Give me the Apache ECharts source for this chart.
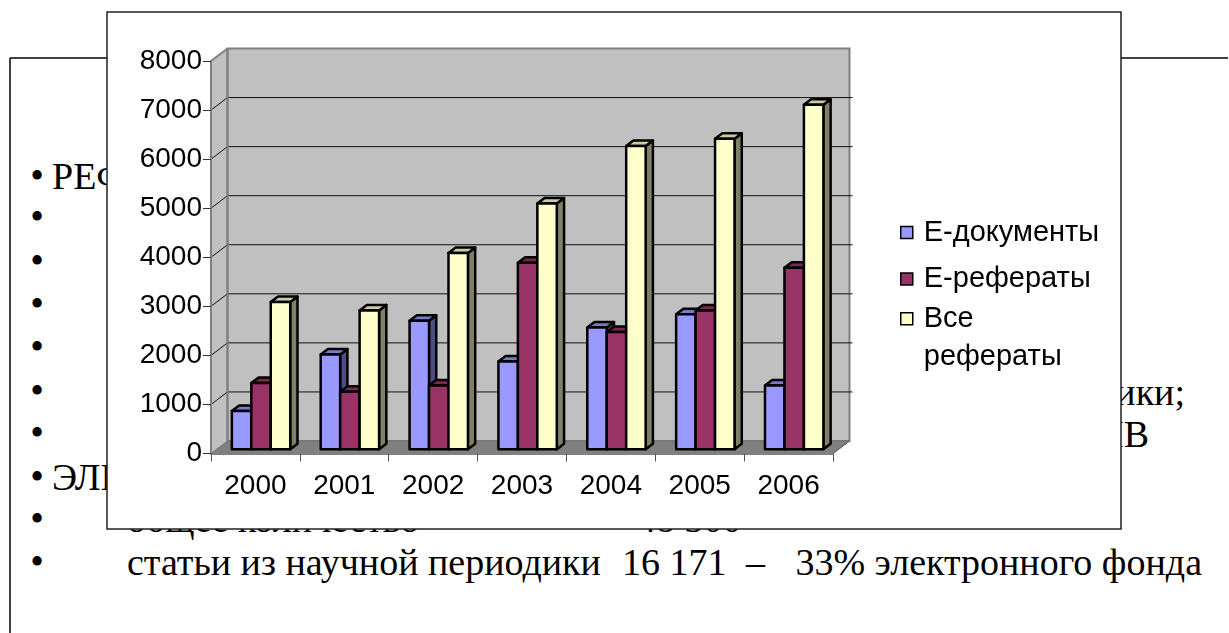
<!DOCTYPE html>
<html><head><meta charset="utf-8">
<script src="https://cdn.jsdelivr.net/npm/echarts@6/dist/echarts.min.js"></script>
<style>
html,body{margin:0;padding:0;background:#fff;overflow:hidden}
#slide{position:absolute;left:0;top:0;width:1229px;height:633px}
#chart{position:absolute;left:0;top:0;width:1229px;height:633px}
</style></head><body>
<svg id="slide" width="1229" height="633" xmlns="http://www.w3.org/2000/svg" font-family="'Liberation Serif','Times New Roman',serif" font-size="38" fill="#000">
  <line x1="10" y1="58" x2="1228" y2="58" stroke="#000" stroke-width="1.5"/>
  <line x1="10" y1="58" x2="10" y2="633" stroke="#000" stroke-width="1.5"/>
  <g text-anchor="middle" font-size="39">
    <text x="37" y="189">•</text>
    <text x="37" y="230">•</text>
    <text x="37" y="274">•</text>
    <text x="37" y="317">•</text>
    <text x="37" y="360">•</text>
    <text x="37" y="404">•</text>
    <text x="37" y="446">•</text>
    <text x="37" y="490">•</text>
    <text x="37" y="532">•</text>
    <text x="37" y="575">•</text>
  </g>
  <text x="52" y="189">РЕФЕРАТЫ</text>
  <text x="1185" y="405" text-anchor="end">периодики;</text>
  <text x="1149" y="447" text-anchor="end">АРХИВ</text>
  <text x="52" y="490">ЭЛЕКТРОННЫЙ ФОНД</text>
  <text x="127" y="532">общее количество</text>
  <text x="637" y="532">48 300</text>
  <text x="127" y="575">статьи из научной периодики</text>
  <text x="622" y="575">16 171</text>
  <text x="746" y="575">–</text>
  <text x="1202" y="575" text-anchor="end">33% электронного фонда</text>
</svg>
<div id="chart"></div>
<script>
// ---- data ----
const categories = ['2000', '2001', '2002', '2003', '2004', '2005', '2006'];
const eDocs = [780, 1930, 2620, 1790, 2480, 2750, 1300];
const eRefs = [1350, 1170, 1300, 3800, 2390, 2830, 3700];
const allRefs = [3000, 2830, 4000, 5010, 6180, 6330, 7020];
const seriesNames = ['Е-документы', 'Е-рефераты', 'Все рефераты'];
const yTickValues = [0, 1000, 2000, 3000, 4000, 5000, 6000, 7000, 8000];

// ---- 3D look ----
const DEPTH = [16.5, -12.5];
const Z0 = 0.34, Z1 = 0.78;
const BAR_FRAC = 0.219;
const palettes = [
  { front: '#9999FF', top: '#7A7ACC', side: '#4D4D80' },
  { front: '#993366', top: '#7A2952', side: '#4D1A33' },
  { front: '#FFFFCC', top: '#CCCCA3', side: '#808066' }
];
const FONT = "'Liberation Sans', Arial, sans-serif";

function barRenderer(k) {
  return function (params, api) {
    const i = api.value(0), v = api.value(1);
    const top = api.coord([i, v]);
    const base = api.coord([i, 0]);
    const bw = api.size([1, 0])[0];
    const w = bw * BAR_FRAC;
    const L = top[0] - 1.5 * w + k * w + Z0 * DEPTH[0];
    const R = L + w;
    const yT = top[1] + Z0 * DEPTH[1];
    const yB = base[1] + Z0 * DEPTH[1];
    const dx = (Z1 - Z0) * DEPTH[0], dy = (Z1 - Z0) * DEPTH[1];
    const pal = palettes[k];
    const st = { stroke: '#000', lineWidth: 2.5, lineJoin: 'round' };
    return {
      type: 'group', children: [
        { type: 'polygon', shape: { points: [[R, yT], [R + dx, yT + dy], [R + dx, yB + dy], [R, yB]] }, style: Object.assign({ fill: pal.side }, st) },
        { type: 'polygon', shape: { points: [[L, yT], [R, yT], [R + dx, yT + dy], [L + dx, yT + dy]] }, style: Object.assign({ fill: pal.top }, st) },
        { type: 'rect', shape: { x: L, y: yT, width: w, height: yB - yT }, style: Object.assign({ fill: pal.front }, st) }
      ]
    };
  };
}

function wallRenderer(params, api) {
  const cs = params.coordSys;
  const x0 = cs.x, x1 = cs.x + cs.width, yTop = cs.y, yBot = cs.y + cs.height;
  const dx = DEPTH[0], dy = DEPTH[1];
  const ch = [];
  ch.push({ type: 'polygon', shape: { points: [[x0, yBot], [x0, yTop], [x0 + dx, yTop + dy], [x0 + dx, yBot + dy]] }, style: { fill: '#C0C0C0' } });
  ch.push({ type: 'rect', shape: { x: x0 + dx, y: yTop + dy, width: cs.width, height: cs.height }, style: { fill: '#C0C0C0', stroke: '#808080', lineWidth: 2 } });
  yTickValues.forEach(function (v) {
    if (v === yTickValues[0] || v === yTickValues[yTickValues.length - 1]) return;
    const y = api.coord([0, v])[1];
    ch.push({ type: 'polyline', shape: { points: [[x0, y], [x0 + dx, y + dy], [x1 + dx + 3, y + dy]] }, style: { stroke: '#111', lineWidth: 1, fill: null } });
  });
  ch.push({ type: 'polygon', shape: { points: [[x0, yBot], [x1, yBot], [x1 + dx, yBot + dy], [x0 + dx, yBot + dy]] }, style: { fill: '#808080', stroke: '#707070', lineWidth: 1 } });
  ch.push({ type: 'polyline', shape: { points: [[x0, yTop], [x0 + dx, yTop + dy]] }, style: { stroke: '#808080', lineWidth: 2, fill: null } });
  ch.push({ type: 'polyline', shape: { points: [[x0 + dx, yTop + dy], [x0 + dx, yBot + dy]] }, style: { stroke: '#808080', lineWidth: 2, fill: null } });
  ch.push({ type: 'polyline', shape: { points: [[x1, yBot], [x1 + dx, yBot + dy]] }, style: { stroke: '#606060', lineWidth: 1, fill: null } });
  return { type: 'group', children: ch };
}

const seriesData = [eDocs, eRefs, allRefs];
const series = [{
  type: 'custom', name: '__walls', z: -5, clip: false, silent: true,
  renderItem: wallRenderer, data: [[0, 0]], encode: { x: 0, y: 1 }
}];
seriesData.forEach(function (arr, k) {
  series.push({
    type: 'custom', name: seriesNames[k], z: 2, clip: false, silent: true,
    itemStyle: { color: palettes[k].front },
    renderItem: barRenderer(k),
    data: arr.map(function (v, i) { return [i, v]; }),
    encode: { x: 0, y: 1 }
  });
});

const legendText = { fontFamily: FONT, fontSize: 29, color: '#000', lineHeight: 38, padding: [0, 0, 0, 6] };
const chart = echarts.init(document.getElementById('chart'), null, { renderer: 'canvas' });
chart.setOption({
  animation: false,
  backgroundColor: 'transparent',
  graphic: [{
    type: 'rect', z: -10, shape: { x: 107, y: 12, width: 1014, height: 517 },
    style: { fill: '#fff', stroke: '#222', lineWidth: 1.5 }
  }],
  grid: { left: 211, top: 61, width: 622, height: 392.5, containLabel: false },
  xAxis: {
    type: 'category', data: categories, boundaryGap: true,
    axisLine: { show: true, lineStyle: { color: '#808080', width: 2 } },
    axisTick: { show: true, length: 8, lineStyle: { color: '#555', width: 1 } },
    axisLabel: { fontFamily: FONT, fontSize: 28, color: '#000', margin: 17, lineHeight: 32 },
    splitLine: { show: false }
  },
  yAxis: {
    type: 'value', min: yTickValues[0], max: yTickValues[yTickValues.length - 1], interval: 1000,
    axisLine: { show: true, lineStyle: { color: '#808080', width: 2 } },
    axisTick: { show: true, length: 8, lineStyle: { color: '#333', width: 1 } },
    axisLabel: { fontFamily: FONT, fontSize: 28, color: '#000', margin: 9, formatter: function (v) { return String(v); } },
    splitLine: { show: false }
  },
  legend: [{
    orient: 'vertical', left: 900, top: 213.5, padding: 0, itemWidth: 12, itemHeight: 12, itemGap: 8.5,
    icon: 'rect', selectedMode: false, data: [seriesNames[0], seriesNames[1]],
    itemStyle: { borderColor: '#000', borderWidth: 1.5 },
    textStyle: legendText
  }, {
    orient: 'vertical', left: 900, top: 261.7, padding: 0, itemWidth: 12, itemHeight: 12,
    icon: 'rect', selectedMode: false, data: [seriesNames[2]],
    formatter: function () { return '\nВсе\nрефераты'; },
    itemStyle: { borderColor: '#000', borderWidth: 1.5 },
    textStyle: legendText
  }],
  series: series
});
</script>
</body></html>
